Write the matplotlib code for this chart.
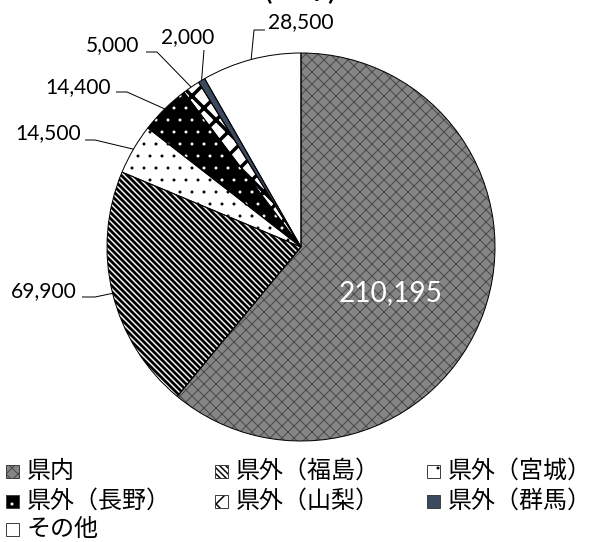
import numpy as np
import matplotlib
matplotlib.use("Agg")
import matplotlib.pyplot as plt
from matplotlib.patches import Rectangle

# --- data ---------------------------------------------------------------
labels = ["県内", "県外（福島）", "県外（宮城）", "県外（長野）",
          "県外（山梨）", "県外（群馬）", "その他"]
values = [210195, 69900, 14500, 14400, 5000, 2000, 28500]
value_text = ["210,195", "69,900", "14,500", "14,400", "5,000", "2,000", "28,500"]

BS = chr(92)  # backslash, for the diagonal stripe hatch

# --- styles (face, hatch, hatch colour, hatch linewidth) ------------------
styles = [
    ("#858585", "xx", "#4a4a4a", 1.0),
    ("white", BS * 4, "black", 2.8),
    ("white", ".", "black", 0.5),
    ("black", ".", "white", 0.5),
    ("white", "x", "black", 3.5),
    ("#3b4a5e", None, None, 0),
    ("white", None, None, 0),
]

W, H = 603, 542
CX, CY, R = 301, 247, 194          # pie centre / radius in image pixels
fig = plt.figure(figsize=(W / 72, H / 72), dpi=72)
ax = fig.add_axes([0, 0, 1, 1])


def with_hatch_lw(patch, lw):
    # hatch linewidth per patch (attribute if present, rc at draw otherwise)
    if hasattr(patch, "set_hatch_linewidth"):
        patch.set_hatch_linewidth(lw)
    elif hasattr(patch, "_hatch_linewidth"):
        patch._hatch_linewidth = lw
    orig = patch.draw

    def draw(renderer, orig=orig, lw=lw):
        with plt.rc_context({"hatch.linewidth": lw}):
            orig(renderer)
    patch.draw = draw


wedges, _ = ax.pie(values, startangle=90, counterclock=False,
                   center=(CX, H - CY), radius=R, frame=True)
for w, (fc, hatch, hc, hlw) in zip(wedges, styles):
    w.set_facecolor(fc)
    w.set_linewidth(0)
    if hatch:
        w.set_hatch(hatch)
        w.set_edgecolor(hc)
        with_hatch_lw(w, hlw)
# outlines on top
ax.pie(values, startangle=90, counterclock=False,
       center=(CX, H - CY), radius=R, frame=True,
       wedgeprops=dict(facecolor="none", edgecolor="black", linewidth=1.0))

ax.set_xlim(0, W)
ax.set_ylim(0, H)
ax.set_aspect("auto")
ax.axis("off")

NUMFONT = "Lato"


def img(x, y):
    return x, H - y


def arc_point(w):
    mid = np.deg2rad((w.theta1 + w.theta2) / 2)
    return CX + R * np.cos(mid), (H - CY) + R * np.sin(mid)


# label text position (image px), alignment, leader elbow points (image px)
leaders = {
    6: ((268, 22), "left", [(265, 30), (254, 30)]),
    5: ((188, 37), "center", [(204, 50)]),
    4: ((139, 45), "right", [(146, 52), (157, 52)]),
    3: ((111, 87), "right", [(116, 92), (127, 92)]),
    2: ((81, 133), "right", [(85, 140), (95, 140)]),
    1: ((77, 291), "right", [(82, 297), (95, 297)]),
}
for i, (tpos, ha, pts) in leaders.items():
    ax.text(*img(*tpos), value_text[i], ha=ha, va="center",
            fontsize=21, family=NUMFONT, color="black")
    xs = [img(*p)[0] for p in pts]
    ys = [img(*p)[1] for p in pts]
    ax_, ay_ = arc_point(wedges[i])
    ax.plot(xs + [ax_], ys + [ay_], color="black", lw=1.0, solid_capstyle="butt")

ax.text(*img(391, 293), value_text[0], ha="center", va="center",
        fontsize=28, family=NUMFONT, color="white")

# title, clipped by the top edge as in the original
ax.text(*img(300, -9), "(R2年)", ha="center", va="center", fontsize=24,
        fontweight="bold", family=["Noto Sans CJK JP", "DejaVu Sans"])

# --- legend (manual, three equal columns) ----------------------------------
col_x = [6, 215, 427]
row_y = [471, 501, 529]
for k, (lab, (fc, hatch, hc, hlw)) in enumerate(zip(labels, styles)):
    cx, ry = col_x[k % 3], row_y[k // 3]
    x0, y0 = img(cx, ry + 6.5)
    sq = Rectangle((x0, y0), 13, 13, facecolor=fc, edgecolor=hc or "black",
                   hatch=hatch, linewidth=0)
    ax.add_patch(sq)
    if hatch:
        with_hatch_lw(sq, min(hlw, 1.5))
    ax.add_patch(Rectangle((x0, y0), 13, 13, facecolor="none",
                           edgecolor="#404040", linewidth=1.0))
    ax.text(*img(cx + 21, ry), lab, ha="left", va="center", fontsize=24,
            family=["Noto Sans CJK JP", "DejaVu Sans"])

fig.savefig("out.png", dpi=72)
